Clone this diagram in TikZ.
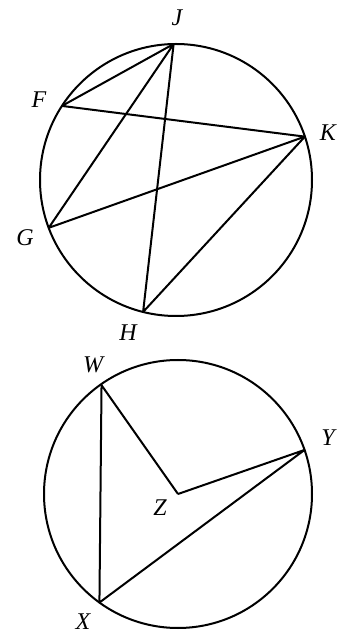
\documentclass[tikz,border=0pt]{standalone}
\usepackage{fontspec}
\setmainfont{Liberation Serif}
\usetikzlibrary{positioning}

\begin{document}
\begin{tikzpicture}[
    x=1pt, y=1pt,
    rim/.style={line width=2pt},
    chord/.style={line width=2pt, line join=round},
    lbl/.style={font=\fontsize{24}{28}\selectfont\itshape, inner sep=0pt}
]
    \useasboundingbox (0,0) rectangle (343,635);

    % upper circle
    \coordinate (O1) at (176,455);
    \draw[rim] (O1) circle (136);
    \coordinate (J) at ([shift={(91:136)}]O1);
    \coordinate (F) at ([shift={(147:136)}]O1);
    \coordinate (K) at ([shift={(18.6:136)}]O1);
    \coordinate (G) at ([shift={(200.6:136)}]O1);
    \coordinate (H) at ([shift={(256:136)}]O1);

    \draw[chord] (F) -- (J) -- (G) -- (K) -- (F);
    \draw[chord] (J) -- (H) -- (K);

    \node[lbl] (lJ) at (177,617) {J};
    \node[lbl] (lF) at (39,535) {F};
    \node[lbl] (lK) at (328,502) {K};
    \node[lbl] (lG) at (25,397) {G};
    \node[lbl] (lH) at (128,302) {H};

    % lower circle
    \coordinate (Z) at (178,141);
    \draw[rim] (Z) circle (134);
    \coordinate (W) at ([shift={(125.1:133)}]Z);
    \coordinate (X) at ([shift={(234.1:134)}]Z);
    \coordinate (Y) at ([shift={(19.2:134)}]Z);

    \draw[chord] (Z) -- (W) -- (X) -- (Y) -- (Z);

    \node[lbl] (lW) at (93,270) {W};
    \node[lbl] (lY) at (328,197) {Y};
    \node[lbl] (lZ) at (160,127) {Z};
    \node[lbl] (lX) at (83,13) {X};
\end{tikzpicture}
\end{document}
